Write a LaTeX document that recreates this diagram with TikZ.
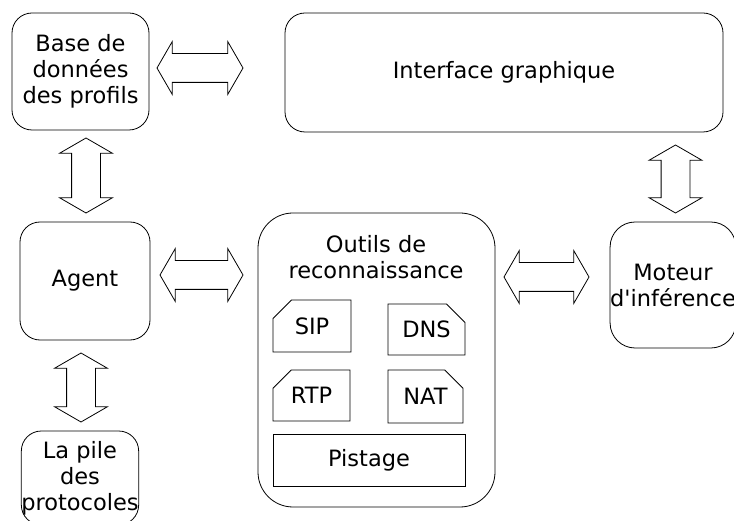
\documentclass[tikz,border=0pt]{standalone}
\usepackage{fontspec}
\setmainfont{DejaVu Sans}
\usetikzlibrary{shapes.arrows,shapes.misc}
\tikzset{
  bloc/.style={draw, rounded corners=20pt, align=center, inner sep=0pt, line width=0.8pt},
  outil/.style={draw, chamfered rectangle, chamfered rectangle sep=10pt, inner sep=0pt, line width=0.8pt},
  fleche/.style={draw, double arrow, double arrow head extend=12pt, double arrow tip angle=120,
    inner xsep=0pt, inner ysep=14pt, minimum width=52pt, line width=0.8pt}
}
\begin{document}
\begin{tikzpicture}[x=1pt, y=-1pt, font=\fontsize{22.5}{26}\selectfont]
  \useasboundingbox (0,0) rectangle (734,521);
  % blocs principaux
  \node[bloc, minimum width=137pt, minimum height=117pt] (base) at (80.5,71.5) {Base de\\données\\des profils};
  \node[bloc, minimum width=438pt, minimum height=119pt] (gui) at (504,72.5) {Interface graphique};
  \node[bloc, minimum width=130pt, minimum height=118pt] (agent) at (85,281) {Agent};
  \node[bloc, rounded corners=35pt, minimum width=237pt, minimum height=294pt] (outils) at (376.5,360) {};
  \node[align=center] (titre) at (376,257) {Outils de\\reconnaissance};
  \node[bloc, rounded corners=25pt, minimum width=120pt, minimum height=126pt] (moteur) at (673,285) {Moteur\\d\textquotesingle inférence};
  \node[bloc, minimum width=114pt, minimum height=94pt] (pile) at (80,478) {La pile\\des\\protocoles};
  % outils
  \node[outil, chamfered rectangle corners=north west, minimum width=78pt, minimum height=52pt] (sip) at (312,326) {SIP};
  \node[outil, chamfered rectangle corners=north east, minimum width=77pt, minimum height=51pt] (dns) at (426.5,329.5) {DNS};
  \node[outil, chamfered rectangle corners=north west, minimum width=77pt, minimum height=51pt] (rtp) at (311.5,395.5) {RTP};
  \node[outil, chamfered rectangle corners=north east, minimum width=75pt, minimum height=53pt] (nat) at (425.5,396.5) {NAT};
  \node[draw, line width=0.8pt, minimum width=192pt, minimum height=52pt] (pistage) at (369,460) {Pistage};
  % fleches
  \node[fleche, minimum height=86pt] (f1) at (200,68) {};
  \node[fleche, minimum height=83pt] (f2) at (201.5,275) {};
  \node[fleche, minimum height=85pt] (f3) at (546.5,277) {};
  \node[fleche, rotate=90, minimum height=75pt] (f4) at (86,175.5) {};
  \node[fleche, rotate=90, minimum height=69pt] (f5) at (81,387.5) {};
  \node[fleche, rotate=90, minimum height=68pt] (f6) at (675.5,179) {};
\end{tikzpicture}
\end{document}
